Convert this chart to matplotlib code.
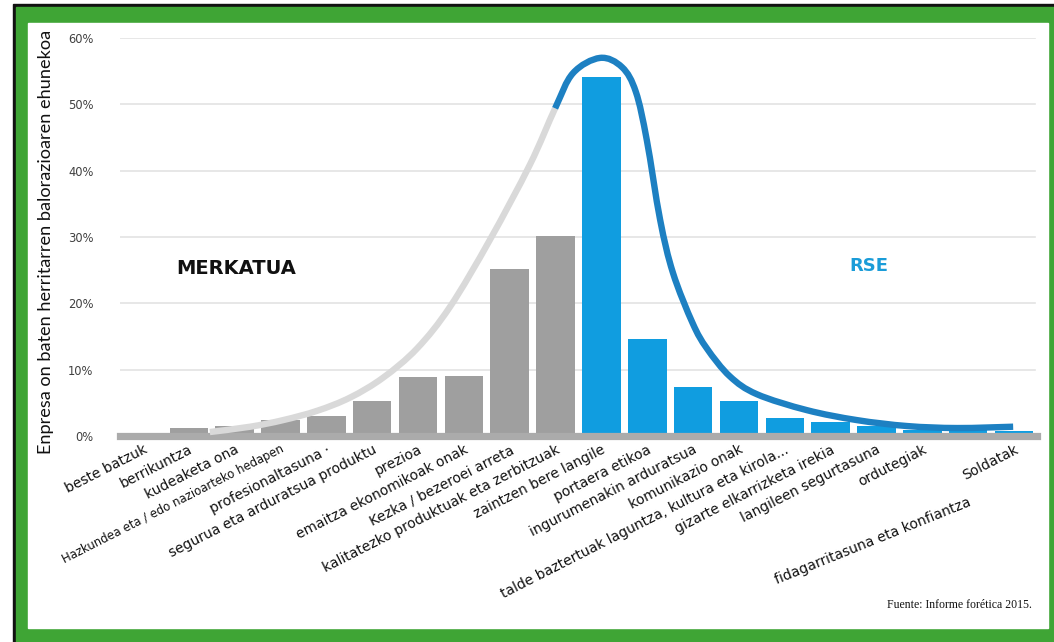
import matplotlib
matplotlib.use("Agg")
import matplotlib.pyplot as plt
from matplotlib.patches import Rectangle, PathPatch
from matplotlib.path import Path

# ---------------- data ----------------
categories = [
    "beste batzuk", "berrikuntza", "kudeaketa ona",
    "Hazkundea eta / edo nazioarteko hedapen", "profesionaltasuna ·",
    "segurua eta arduratsua produktu", "prezioa", "emaitza ekonomikoak onak",
    "Kezka / bezeroei arreta", "kalitatezko produktuak eta zerbitzuak",
    "zaintzen bere langile", "portaera etikoa", "ingurumenakin arduratsua",
    "komunikazio onak", "talde baztertuak laguntza, kultura eta kirola...",
    "gizarte elkarrizketa irekia", "langileen segurtasuna", "ordutegiak",
    "fidagarritasuna eta konfiantza", "Soldatak",
]
values = [0.4, 1.2, 1.5, 2.4, 3.0, 5.3, 8.9, 9.0, 25.2, 30.2,
          54.1, 14.6, 7.4, 5.3, 2.7, 2.1, 1.5, 0.9, 0.9, 0.8]
n_market = 10  # first 10 categories = MERKATUA, rest = RSE

# hand-drawn trend curve (category position, %)
curve_market_x = [1.46, 2.34, 3.06, 3.80, 4.52, 5.24, 5.98, 6.70, 7.57, 8.44, 8.99]
curve_market_y = [0.6, 1.4, 2.4, 3.8, 5.8, 8.8, 13.2, 19.5, 29.6, 40.9, 49.4]
curve_rse_x = [8.99, 9.38, 9.97, 10.45, 10.75, 10.99, 11.28, 11.56, 11.99,
               12.30, 12.80, 13.39, 14.48, 15.57, 16.67, 17.76, 18.98]
curve_rse_y = [49.4, 54.7, 57.0, 55.6, 51.9, 44.6, 32.6, 24.6, 17.0,
               13.2, 9.0, 6.3, 3.9, 2.4, 1.5, 1.2, 1.4]

yticks = [0, 10, 20, 30, 40, 50, 60]
ytick_labels = ["0%", "10%", "20%", "30%", "40%", "50%", "60%"]
ylabel = "Enpresa on baten herritarren balorazioaren ehunekoa"
source = "Fuente: Informe forética 2015."

# ---------------- colours ----------------
GRAY_BAR = "#9f9f9f"
BLUE_BAR = "#109de0"
GRAY_CURVE = "#d9d9d9"
BLUE_CURVE = "#1d80c2"
GREEN = "#3fa535"
BASE = "#ababab"

W, H = 1054, 642
fig = plt.figure(figsize=(W / 100, H / 100), dpi=100)
fig.patch.set_facecolor("white")

# frame: black outer edge, green band, white interior
fig.add_artist(Rectangle((13 / W, 0), 1 - 13 / W, (H - 4) / H,
                         transform=fig.transFigure, color="#111111", zorder=-3))
fig.add_artist(Rectangle((16 / W, 0), 1 - 16 / W, (H - 7) / H,
                         transform=fig.transFigure, color=GREEN, zorder=-2))
fig.add_artist(Rectangle((28 / W, (H - 628) / H), (1048 - 28) / W, (628 - 23) / H,
                         transform=fig.transFigure, color="white", zorder=-1))

left, right, top, bottom = 120, 1037, 38, 436
ax = fig.add_axes([left / W, (H - bottom) / H, (right - left) / W, (bottom - top) / H])
ax.set_facecolor("none")

x = list(range(len(categories)))
colors = [GRAY_BAR if i < n_market else BLUE_BAR for i in x]
ax.bar(x, values, width=0.84, color=colors, zorder=2)

ax.set_xlim(-0.5, len(categories) - 0.5)
ax.set_ylim(0, 60)

# gridlines (except 0)
for t in yticks[1:]:
    ax.axhline(t, xmin=0, xmax=0.998, color="#e3e3e3", lw=1.2, zorder=1)
# thick base line
ax.axhline(0, color=BASE, lw=5.2, zorder=3, clip_on=False)


# smooth curve through the read points (Catmull-Rom drawn as Bezier path)
def smooth_segments(px, py):
    n = len(px)
    segs = []
    for k in range(n - 1):
        p0 = (px[max(k - 1, 0)], py[max(k - 1, 0)])
        p1 = (px[k], py[k])
        p2 = (px[k + 1], py[k + 1])
        p3 = (px[min(k + 2, n - 1)], py[min(k + 2, n - 1)])
        c1 = (p1[0] + (p2[0] - p0[0]) / 6, p1[1] + (p2[1] - p0[1]) / 6)
        c2 = (p2[0] - (p3[0] - p1[0]) / 6, p2[1] - (p3[1] - p1[1]) / 6)
        segs.append((p1, c1, c2, p2))
    return segs


all_x = curve_market_x + curve_rse_x[1:]
all_y = curve_market_y + curve_rse_y[1:]
segs = smooth_segments(all_x, all_y)
split = len(curve_market_x) - 1
for part, col in ((segs[:split], GRAY_CURVE), (segs[split:], BLUE_CURVE)):
    verts = [part[0][0]]
    codes = [Path.MOVETO]
    for p1, c1, c2, p2 in part:
        verts += [c1, c2, p2]
        codes += [Path.CURVE4] * 3
    ax.add_patch(PathPatch(Path(verts, codes), fill=False, edgecolor=col,
                           lw=4.6, capstyle="butt", joinstyle="round", zorder=4))

for s in ax.spines.values():
    s.set_visible(False)

ax.set_yticks(yticks)
ax.set_yticklabels(ytick_labels, fontsize=8.3, color="#404040", family="DejaVu Sans")
ax.tick_params(axis="y", length=0, pad=19)
ax.set_xticks([])

# category labels
for i, lab in enumerate(categories):
    fs, rot, dy = 10.0, 27, -1.0
    if i == 3:
        fs = 8.4
    if i == 18:
        rot, dy = 22, -9.0
    ax.text(i, dy, lab, rotation=rot, rotation_mode="anchor", ha="right",
            va="top", fontsize=fs, color="#111111", family="DejaVu Sans")

# section titles
ax.text(2.03, 25.3, "MERKATUA", fontsize=14, fontweight="bold", color="#111111",
        ha="center", va="center", family="DejaVu Sans")
ax.text(15.84, 25.6, "RSE", fontsize=13, fontweight="bold", color="#1a9cd8",
        ha="center", va="center", family="DejaVu Sans")

fig.text(46 / W, (H - 242) / H, ylabel, rotation=90, ha="center", va="center",
         fontsize=13.1, color="#111111", family="Lato")
fig.text(1032 / W, (H - 605) / H, source, ha="right", va="center",
         fontsize=8.5, color="#111111", family="Liberation Serif")

fig.savefig("out.png", dpi=100)
